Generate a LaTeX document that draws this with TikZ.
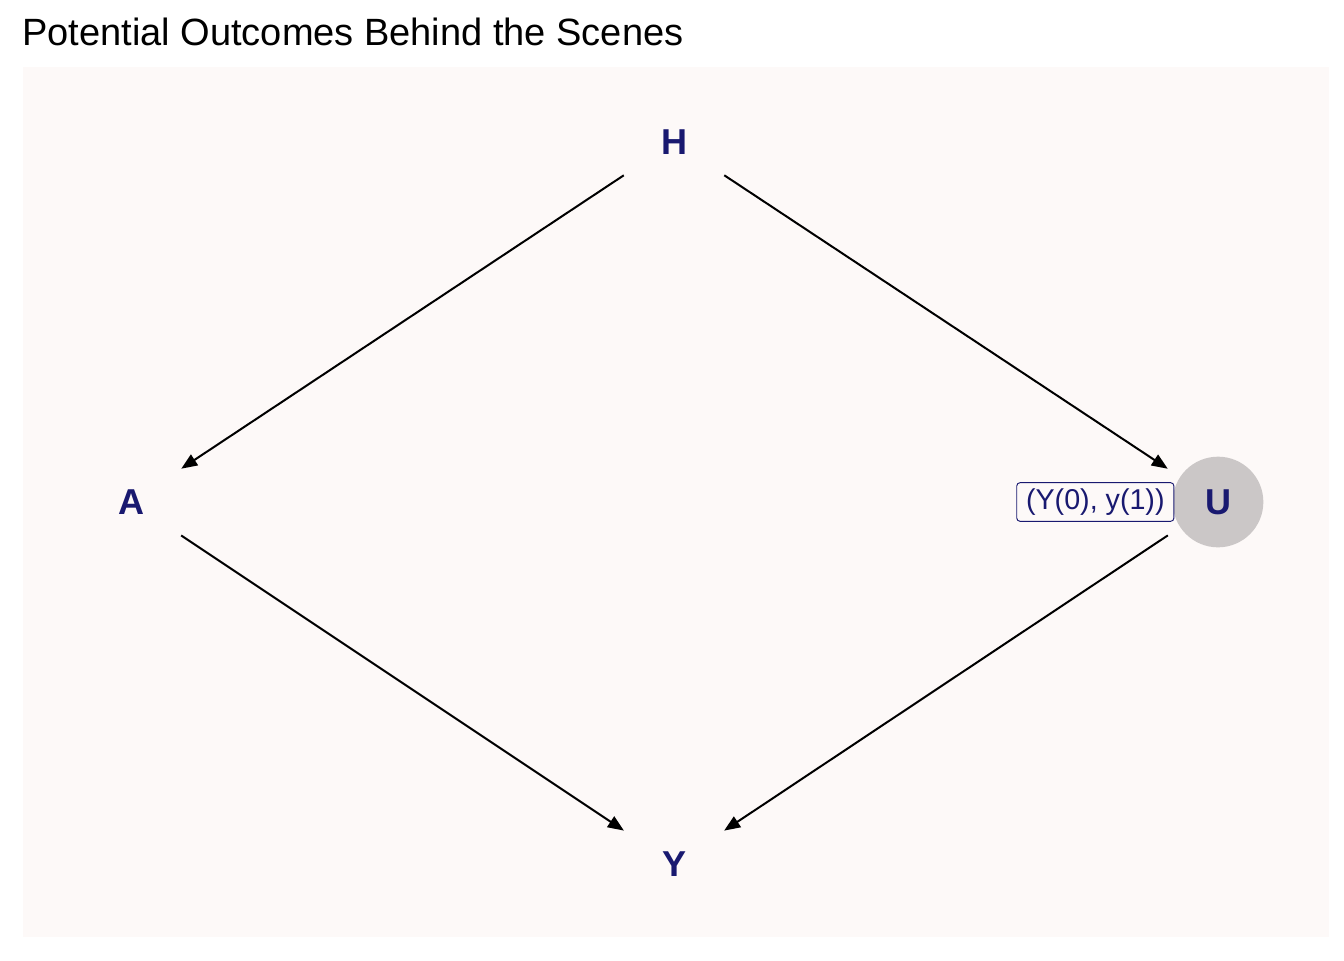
\documentclass[tikz,border=0pt]{standalone}
\usepackage{fontspec}
\setmainfont{Liberation Sans}
\usetikzlibrary{arrows.meta}
\definecolor{panelbg}{RGB}{253,249,248}
\definecolor{dagnavy}{RGB}{25,25,112}
\definecolor{latentgray}{RGB}{203,199,199}
\tikzset{
  dagvar/.style={circle,minimum size=68pt,inner sep=0pt,text=dagnavy,
    font=\fontsize{27}{27}\selectfont\bfseries},
  dagedge/.style={line width=1.5pt,-{Triangle[length=12pt,width=9.5pt]},
    shorten >=11pt,shorten <=11pt},
  potlabel/.style={draw=dagnavy,line width=0.7pt,fill=panelbg,rounded corners=2.5pt,
    text=dagnavy,font=\fontsize{21.5}{21.5}\selectfont,inner xsep=7pt,
    minimum height=29pt}
}
\begin{document}
\begin{tikzpicture}[x=0.75pt,y=-0.75pt]
\useasboundingbox (0,0) rectangle (1344,960);
% panel
\fill[panelbg] (23,67) rectangle (1329,937);
\node[anchor=base west,inner sep=0pt,font=\fontsize{28.5}{28.5}\selectfont] (title) at (22,45) {Potential Outcomes Behind the Scenes};
% variables
\node[dagvar] (H) at (674,142) {H};
\node[dagvar] (A) at (131,502) {A};
\node[dagvar,fill=latentgray] (U) at (1218,502) {U};
\node[dagvar] (Y) at (674,864) {Y};
\node[potlabel,anchor=east] (Ulab) at ([xshift=1.5pt]U.west) {(Y(0), y(1))};
% edges
\draw[dagedge] (H) -- (A);
\draw[dagedge] (H) -- (U);
\draw[dagedge] (A) -- (Y);
\draw[dagedge] (U) -- (Y);
\end{tikzpicture}
\end{document}
